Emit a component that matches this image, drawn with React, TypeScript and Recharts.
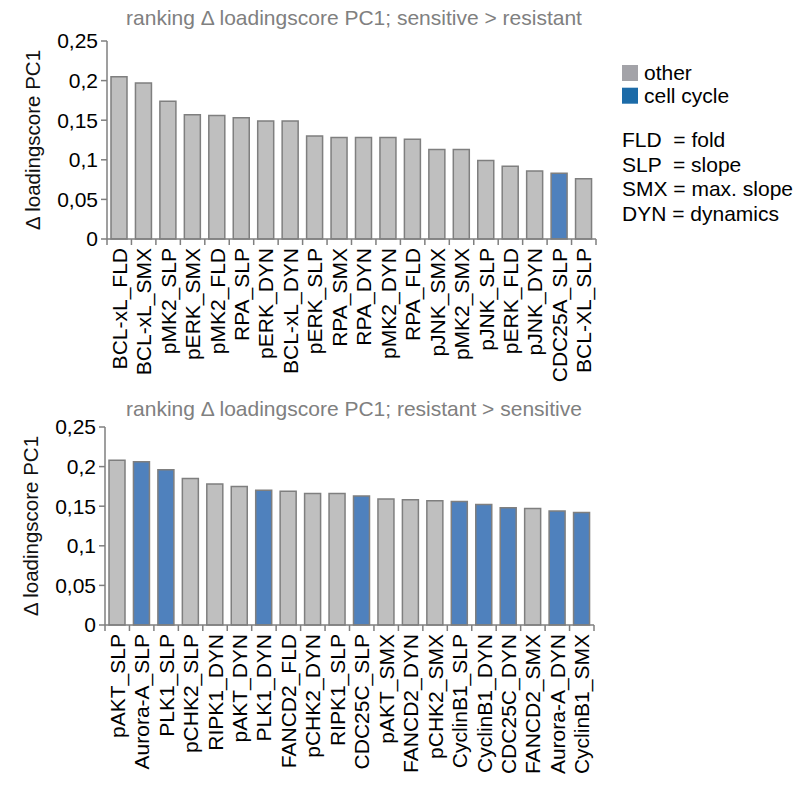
import React from "react";
import { BarChart, Bar, XAxis, YAxis, Cell } from "recharts";

const FONT = "'Liberation Sans', Arial, sans-serif";
const TEXT_SIZE = 21;
const GREY_BAR = "#BFBFBF";
const BLUE_BAR = "#4F81BD";
const EDGE = "#7F7F7F";

const yTicks = [0, 0.05, 0.1, 0.15, 0.2, 0.25];

// sensitive > resistant
const sensLabels = [
  "BCL-xL_FLD", "BCL-xL_SMX", "pMK2_SLP", "pERK_SMX", "pMK2_FLD",
  "RPA_SLP", "pERK_DYN", "BCL-xL_DYN", "pERK_SLP", "RPA_SMX",
  "RPA_DYN", "pMK2_DYN", "RPA_FLD", "pJNK_SMX", "pMK2_SMX",
  "pJNK_SLP", "pERK_FLD", "pJNK_DYN", "CDC25A_SLP", "BCL-XL_SLP",
];
const sensValues = [
  0.205, 0.197, 0.174, 0.157, 0.156,
  0.153, 0.149, 0.149, 0.130, 0.128,
  0.128, 0.128, 0.126, 0.113, 0.113,
  0.099, 0.092, 0.086, 0.083, 0.076,
];
const sensCellCycle = ["CDC25A_SLP"];

// resistant > sensitive
const resLabels = [
  "pAKT_SLP", "Aurora-A_SLP", "PLK1_SLP", "pCHK2_SLP", "RIPK1_DYN",
  "pAKT_DYN", "PLK1_DYN", "FANCD2_FLD", "pCHK2_DYN", "RIPK1_SLP",
  "CDC25C_SLP", "pAKT_SMX", "FANCD2_DYN", "pCHK2_SMX", "CyclinB1_SLP",
  "CyclinB1_DYN", "CDC25C_DYN", "FANCD2_SMX", "Aurora-A_DYN", "CyclinB1_SMX",
];
const resValues = [
  0.208, 0.206, 0.196, 0.185, 0.178,
  0.175, 0.170, 0.169, 0.166, 0.166,
  0.163, 0.159, 0.158, 0.157, 0.156,
  0.152, 0.148, 0.147, 0.144, 0.142,
];
const resCellCycle = [
  "Aurora-A_SLP", "PLK1_SLP", "PLK1_DYN", "CDC25C_SLP", "CyclinB1_SLP",
  "CyclinB1_DYN", "CDC25C_DYN", "Aurora-A_DYN", "CyclinB1_SMX",
];

const legendGroups = [
  { name: "other", color: "#A3A3A8" },
  { name: "cell cycle", color: "#1C6BA8" },
];
const legendAbbrev = ["FLD  = fold", "SLP  = slope", "SMX = max. slope", "DYN = dynamics"];

type Row = { name: string; value: number; cellCycle: boolean };

const toRows = (labels: string[], values: number[], cc: string[]): Row[] =>
  labels.map((name, i) => ({ name, value: values[i], cellCycle: cc.includes(name) }));

const commaFmt = (v: number) => String(v).replace(".", ",");

// rotated category label plus a small tick at the right edge of its band
function CategoryTick(props: any) {
  const { x, y, payload, index } = props;
  const half = payload?.offset ?? 12.25;
  return (
    <g>
      {index === 0 && <line x1={x - half} x2={x - half} y1={y - 8} y2={y - 2} stroke={EDGE} strokeWidth={1.5} />}
      <line x1={x + half} x2={x + half} y1={y - 8} y2={y - 2} stroke={EDGE} strokeWidth={1.5} />
      <text
        x={x}
        y={y + 1}
        dy="0.36em"
        transform={`rotate(-90, ${x}, ${y + 1})`}
        textAnchor="end"
        fontSize={TEXT_SIZE}
        fill="#000"
      >
        {payload.value}
      </text>
    </g>
  );
}

function RankingPanel({ rows, top, left }: { rows: Row[]; top: number; left: number }) {
  return (
    <div style={{ position: "absolute", top, left, width: 620, height: 400 }}>
      <BarChart width={620} height={400} data={rows} margin={{ top: 41, right: 24, bottom: 0, left: 0 }}>
        <XAxis
          dataKey="name"
          interval={0}
          height={161}
          axisLine={{ stroke: EDGE, strokeWidth: 1.5 }}
          tickLine={false}
          tick={<CategoryTick />}
        />
        <YAxis
          width={107}
          domain={[0, 0.25]}
          ticks={yTicks}
          interval={0}
          tickFormatter={commaFmt}
          tickSize={6}
          tickMargin={3}
          axisLine={{ stroke: EDGE, strokeWidth: 1.5 }}
          tickLine={{ stroke: EDGE, strokeWidth: 1.5 }}
          tick={{ fill: "#000", fontSize: TEXT_SIZE }}
          label={{
            value: "Δ loadingscore PC1",
            angle: -90,
            position: "insideLeft",
            offset: 33,
            style: { textAnchor: "middle", fontSize: 20.5, fill: "#111" },
          }}
        />
        <Bar dataKey="value" barSize={16} stroke={EDGE} strokeWidth={1.5} isAnimationActive={false}>
          {rows.map((r) => (
            <Cell key={r.name} fill={r.cellCycle ? BLUE_BAR : GREY_BAR} />
          ))}
        </Bar>
      </BarChart>
    </div>
  );
}

export default function App() {
  const sensRows = toRows(sensLabels, sensValues, sensCellCycle);
  const resRows = toRows(resLabels, resValues, resCellCycle);

  return (
    <div
      style={{
        position: "absolute",
        left: 0,
        top: 0,
        width: 811,
        height: 798,
        background: "#fff",
        fontFamily: FONT,
        overflow: "hidden",
      }}
    >
      <RankingPanel rows={sensRows} top={0} left={0} />
      <RankingPanel rows={resRows} top={386} left={-2} />

      <svg width={811} height={798} style={{ position: "absolute", left: 0, top: 0, pointerEvents: "none" }}>
        <text x={354} y={25} textAnchor="middle" fontSize={TEXT_SIZE} fill="#808080">
          ranking Δ loadingscore PC1; sensitive &gt; resistant
        </text>
        <text x={354} y={416} textAnchor="middle" fontSize={TEXT_SIZE} fill="#808080">
          ranking Δ loadingscore PC1; resistant &gt; sensitive
        </text>

        {legendGroups.map((g, i) => (
          <g key={g.name}>
            <rect x={622} y={65 + i * 22.7} width={16} height={16} fill={g.color} />
            <text x={644} y={80 + i * 22.5} fontSize={TEXT_SIZE} fill="#000">
              {g.name}
            </text>
          </g>
        ))}
        {legendAbbrev.map((t, i) => (
          <text key={t} x={622} y={147 + i * 24.7} fontSize={TEXT_SIZE} fill="#000" style={{ whiteSpace: "pre" }}>
            {t}
          </text>
        ))}
      </svg>
    </div>
  );
}
